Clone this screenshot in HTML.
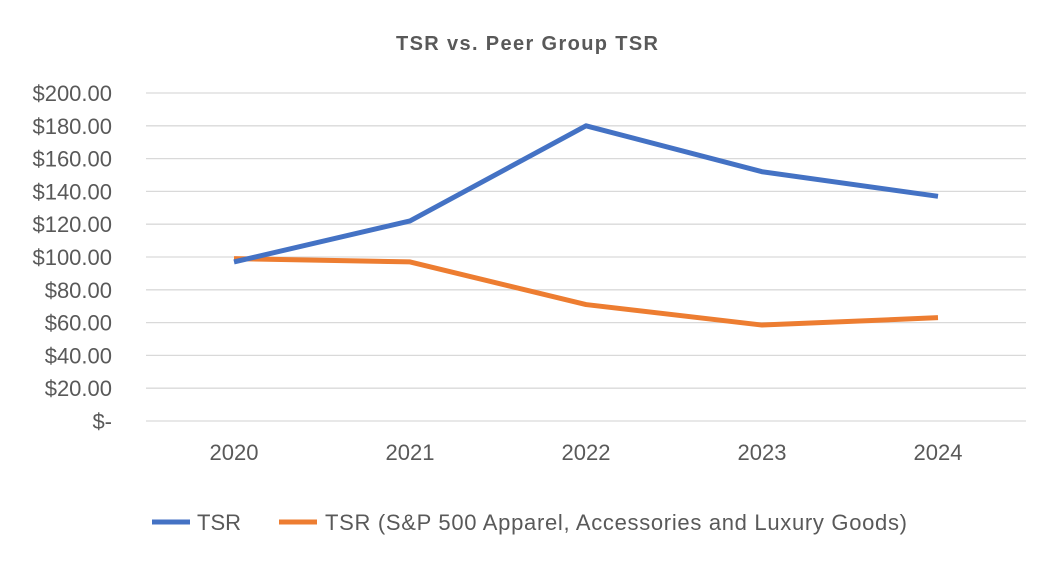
<!DOCTYPE html>
<html><head><meta charset="utf-8"><style>
body{margin:0;background:#fff;}
svg{display:block;font-family:"Liberation Sans",sans-serif;}
</style></head><body>
<svg id="c" width="1056" height="576">
<text x="527" y="50" text-anchor="middle" font-size="20" font-weight="bold" fill="#595959" textLength="262">TSR vs. Peer Group TSR</text>
<g id="grid"></g><g id="series"></g>
<g>
<line x1="152" y1="522" x2="190" y2="522" stroke="#4472C4" stroke-width="5"/>
<text x="197" y="530" font-size="22" fill="#595959">TSR</text>
<line x1="279" y1="522" x2="317" y2="522" stroke="#ED7D31" stroke-width="5"/>
<text x="325" y="530" font-size="22" fill="#595959" textLength="582">TSR (S&amp;P 500 Apparel, Accessories and Luxury Goods)</text>
</g>
</svg>
<script>
const categories=["2020","2021","2022","2023","2024"];
const tsrValues=[97,122,180,152,137];
const peerValues=[99,97,71,58.5,63];
const yTicks=[0,20,40,60,80,100,120,140,160,180,200];
const yTickLabels=["$-","$20.00","$40.00","$60.00","$80.00","$100.00","$120.00","$140.00","$160.00","$180.00","$200.00"];
const NS="http://www.w3.org/2000/svg";
const L=146,R=1026,T=93,B=421;
const y=v=>B-(v/200)*(B-T);
const x=i=>L+(i+0.5)*(R-L)/categories.length;
const grid=document.getElementById('grid'),ser=document.getElementById('series');
function mk(t,a,p){const e=document.createElementNS(NS,t);for(const k in a)e.setAttribute(k,a[k]);p.appendChild(e);return e;}
yTicks.forEach((v,i)=>{
 const g=mk('line',{x1:L,x2:R,y1:y(v),y2:y(v),stroke:'#d9d9d9','stroke-width':1.3},grid);
 
 
 const t=mk('text',{x:112,y:y(v)+8,'text-anchor':'end','font-size':22,fill:'#595959'},grid);
 t.textContent=yTickLabels[i];
 
 
});
categories.forEach((c,i)=>{
 const t=mk('text',{x:x(i),y:460,'text-anchor':'middle','font-size':22,fill:'#595959'},grid);
 t.textContent=c;
 
 
});
function line(vals,col,name){
 const p=mk('polyline',{points:vals.map((v,i)=>x(i)+','+y(v)).join(' '),fill:'none',stroke:col,'stroke-width':5,'stroke-linejoin':'round'},ser);
 
 
}
line(peerValues,'#ED7D31','peer-line');
line(tsrValues,'#4472C4','tsr-line');
</script>
</body></html>
